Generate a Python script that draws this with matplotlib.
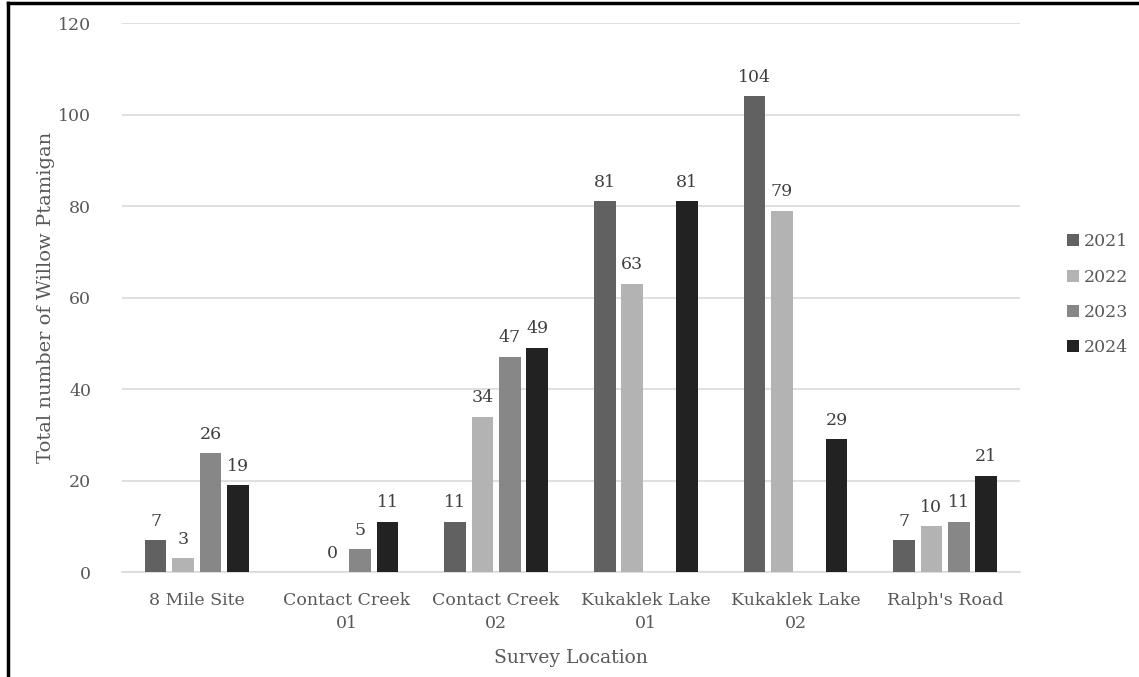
import numpy as np
import matplotlib.pyplot as plt
from matplotlib.lines import Line2D

plt.rcParams['font.family'] = ['DejaVu Serif']

locations = ['8 Mile Site', 'Contact Creek\n01', 'Contact Creek\n02',
             'Kukaklek Lake\n01', 'Kukaklek Lake\n02', "Ralph's Road"]
years = ['2021', '2022', '2023', '2024']
# nan = no survey that year (no bar, no label)
counts_2021 = [7, np.nan, 11, 81, 104, 7]
counts_2022 = [3, 0, 34, 63, 79, 10]
counts_2023 = [26, 5, 47, np.nan, np.nan, 11]
counts_2024 = [19, 11, 49, 81, 29, 21]
all_counts = [counts_2021, counts_2022, counts_2023, counts_2024]
colors = ['#616161', '#b3b3b3', '#878787', '#222222']

text_col = '#595959'
fig = plt.figure(figsize=(11.39, 6.77), dpi=100)
ax = fig.add_axes([0.107, 0.155, 0.7885, 0.811])

x = np.arange(len(locations))
step = 0.183
width = 0.145
for i, (yr, vals, c) in enumerate(zip(years, all_counts, colors)):
    pos = x + (i - 1.5) * step
    ax.bar(pos, vals, width=width, color=c, label=yr, zorder=3)
    for p, v in zip(pos, vals):
        if np.isnan(v):
            continue
        ax.text(p, v + 2.3, '%d' % v, ha='center', va='bottom',
                fontsize=12.5, color='#404040')

ax.set_xlim(-0.5, len(locations) - 0.5)
ax.set_ylim(0, 120)
ax.set_yticks(range(0, 121, 20))
ax.set_xticks(x)
ax.set_xticklabels(locations, fontsize=12.5, color=text_col, linespacing=1.5)
ax.tick_params(axis='y', labelsize=12.5, labelcolor=text_col, length=0, pad=22)
ax.tick_params(axis='x', length=0, pad=14)
ax.grid(axis='y', color='#d9d9d9', lw=1.2, zorder=0)
for s in ['top', 'right', 'left']:
    ax.spines[s].set_visible(False)
ax.spines['bottom'].set_color('#d9d9d9')
ax.spines['bottom'].set_linewidth(1.2)
ax.set_xlabel('Survey Location', fontsize=13.5, color=text_col, labelpad=12)
ax.set_ylabel('Total number of Willow Ptamigan', fontsize=14, color=text_col, labelpad=2)

ax.legend(loc='center left', bbox_to_anchor=(1.035, 0.505), frameon=False,
          fontsize=12.5, labelcolor=text_col, handlelength=0.7, handleheight=0.7,
          handletextpad=0.25, labelspacing=1.05)

# outer frame (left and top edges only, as in the source image)
fig.add_artist(Line2D([0.007, 0.007], [0, 0.995], color='black', lw=2.5, transform=fig.transFigure))
fig.add_artist(Line2D([0.007, 1], [0.995, 0.995], color='black', lw=2.5, transform=fig.transFigure))

fig.savefig('out.png', dpi=100)
